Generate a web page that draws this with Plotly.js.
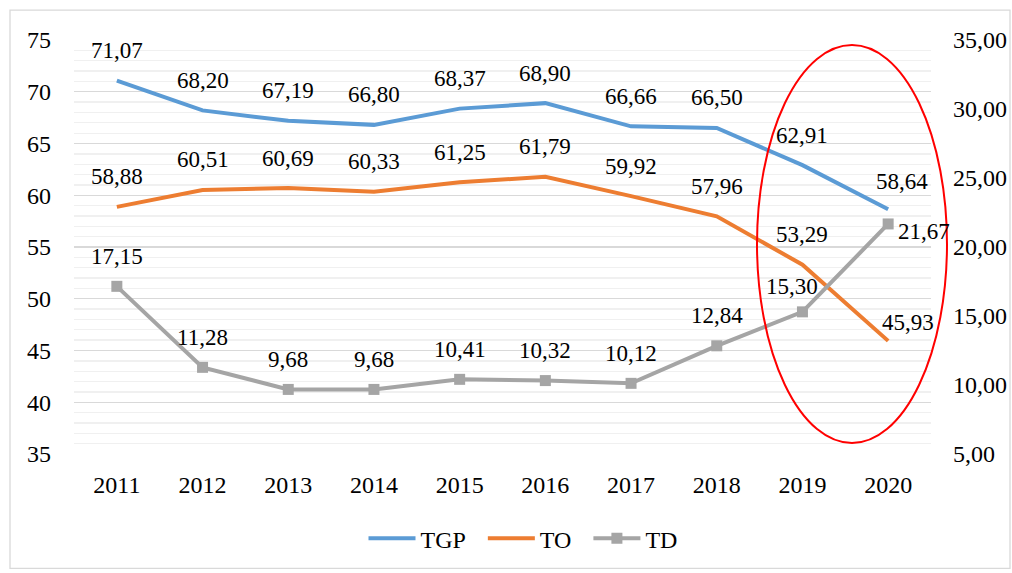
<!DOCTYPE html>
<html><head><meta charset="utf-8">
<script src="https://cdn.plot.ly/plotly-3.0.1.min.js"></script>
<style>html,body{margin:0;padding:0;background:#fff}</style>
</head><body><div id="chart" style="width:1012px;height:573px"></div>
<script>
var years = ['2011','2012','2013','2014','2015','2016','2017','2018','2019','2020'];
var tgp = [71.07, 68.20, 67.19, 66.80, 68.37, 68.90, 66.66, 66.50, 62.91, 58.64];
var to  = [58.88, 60.51, 60.69, 60.33, 61.25, 61.79, 59.92, 57.96, 53.29, 45.93];
var td  = [17.15, 11.28, 9.68, 9.68, 10.41, 10.32, 10.12, 12.84, 15.30, 21.67];
var seriesNames = ['TGP', 'TO', 'TD'];

var FONT = "'Liberation Serif', 'Times New Roman', Tinos, 'DejaVu Serif', serif";
var fs = 24, lfs = 23;

function fmt(v){ return v.toFixed(2).replace('.', ','); }

// label offsets (style only): default above the point
var special = {
  'TGP-9': {xs: 14, ys: 28},
  'TO-9': {xs: 20, ys: 18},
  'TD-8': {xs: -10, ys: 25},
  'TD-9': {xs: 8, ys: -8, anchor: 'left'}
};

var annotations = [];
function addLabels(name, vals, yref){
  vals.forEach(function(v, i){
    var s = special[name + '-' + i] || {xs: 0, ys: 30};
    annotations.push({
      x: i, y: v, xref: 'x', yref: yref, text: fmt(v), showarrow: false,
      xanchor: s.anchor || 'center', yanchor: 'middle', xshift: s.xs, yshift: s.ys,
      font: {family: FONT, size: lfs, color: '#000'}
    });
  });
}
addLabels('TGP', tgp, 'y');
addLabels('TO', to, 'y');
addLabels('TD', td, 'y2');

var pad = '\u00a0\u00a0';
var data = [
  {x: years, y: tgp, name: seriesNames[0] + pad, type: 'scatter', mode: 'lines', line: {color: '#5b9bd5', width: 4}},
  {x: years, y: to, name: seriesNames[1] + pad, type: 'scatter', mode: 'lines', line: {color: '#ed7d31', width: 4}},
  {x: years, y: td, name: seriesNames[2], type: 'scatter', mode: 'lines+markers', yaxis: 'y2',
   line: {color: '#a5a5a5', width: 4}, marker: {symbol: 'square', size: 11, color: '#a5a5a5'}}
];

var W = 1012, H = 573, L = 74, R = 81, T = 40, B = 117;
var pw = W - L - R, ph = H - T - B;
function px(x){ return (x - L) / pw; }
function py(y){ return (H - B - y) / ph; }

var layout = {
  width: W, height: H,
  margin: {l: L, r: R, t: T, b: B},
  paper_bgcolor: '#fff', plot_bgcolor: '#fff',
  font: {family: FONT, size: fs, color: '#000'},
  separators: ',.',
  showlegend: true,
  legend: {orientation: 'h', x: px(523), xanchor: 'center', y: py(541), yanchor: 'middle',
           font: {family: FONT, size: fs, color: '#000'}, itemwidth: 47, tracegroupgap: 0},
  xaxis: {type: 'category', range: [-0.5, 9.5], autorange: false, showgrid: false, zeroline: false,
          showline: false, ticks: '',
          tickfont: {family: FONT, size: fs, color: '#000'}, ticklabelstandoff: 14, fixedrange: true},
  yaxis: {range: [35, 75], dtick: 5, tick0: 35, showgrid: true, gridcolor: '#d9d9d9', gridwidth: 1.3,
          minor: {dtick: 1, showgrid: true, gridcolor: '#f0f0f0', gridwidth: 1.3},
          zeroline: false, showline: false, ticks: '',
          tickfont: {family: FONT, size: fs, color: '#000'}, ticklabelstandoff: 22},
  yaxis2: {range: [5, 35], dtick: 5, tick0: 5, overlaying: 'y', side: 'right', showgrid: false,
           zeroline: false, showline: false, ticks: '', tickformat: '.2f',
           tickfont: {family: FONT, size: fs, color: '#000'}, ticklabelstandoff: 21},
  annotations: annotations,
  shapes: [
    {type: 'rect', xref: 'paper', yref: 'paper', x0: px(10), x1: px(1010), y0: py(571), y1: py(10),
     line: {color: '#d9d9d9', width: 1.3}, fillcolor: 'rgba(0,0,0,0)', layer: 'below'},
    {type: 'circle', xref: 'paper', yref: 'paper', x0: px(757), x1: px(947), y0: py(445), y1: py(45),
     line: {color: '#ff0000', width: 2}, fillcolor: 'rgba(0,0,0,0)', layer: 'above'}
  ]
};

Plotly.newPlot('chart', data, layout, {displayModeBar: false, staticPlot: true});
</script>
</body></html>
